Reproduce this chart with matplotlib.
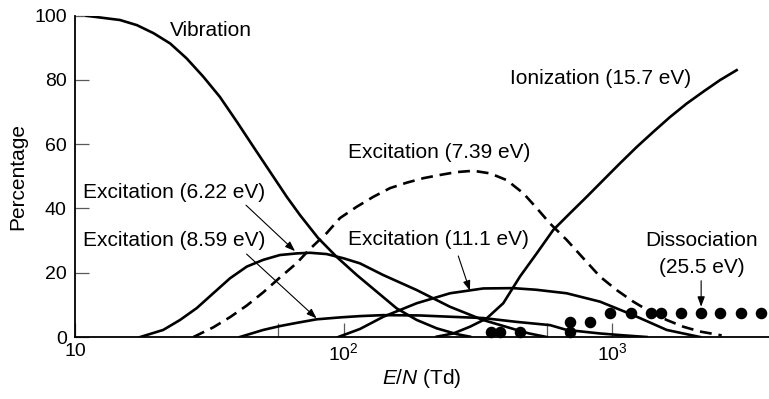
import matplotlib.pyplot as plt
import matplotlib as mpl
import numpy as np

mpl.rcParams['font.family'] = ['Liberation Sans', 'DejaVu Sans']
mpl.rcParams['mathtext.fontset'] = 'custom'
mpl.rcParams['mathtext.rm'] = 'Liberation Sans'
mpl.rcParams['mathtext.it'] = 'Liberation Sans:italic'

# Vibration
vib_x = [11.05, 14.7, 17.0, 19.6, 22.6, 26.0, 30.0, 34.6, 40.0, 46.1, 53.2, 61.4, 68.8, 80.3,
         94.2, 111.8, 132.7, 157.5, 187.0, 221.9, 263.4, 295.2]
vib_y = [99.9, 98.6, 97.0, 94.5, 91.3, 86.7, 81.0, 74.7, 67.0, 59.2, 51.4, 43.6, 37.9, 30.8,
         24.9, 19.3, 14.1, 8.9, 5.3, 2.7, 0.9, 0.1]

# Excitation (6.22 eV)
e622_x = [17.5, 21.3, 24.6, 28.4, 32.7, 37.8, 43.6, 50.2, 57.9, 66.9, 74.9, 86.4, 99.7, 115.0,
          140.1, 187.0, 248.7, 329.9, 440.4, 490.0, 569.4]
e622_y = [0.0, 2.2, 5.3, 9.0, 13.6, 18.3, 21.9, 24.0, 25.5, 26.0, 26.2, 25.8, 24.5, 22.9,
          19.3, 14.6, 9.4, 5.3, 2.2, 1.1, 0.0]

# Excitation (7.39 eV), dashed
e739_x = [27.6, 32.7, 37.8, 43.6, 50.2, 57.9, 66.9, 74.9, 86.4, 96.9, 111.8, 128.9, 148.7,
          171.6, 197.9, 228.3, 263.4, 303.8, 350.4, 404.4, 466.3, 522.8, 586.1, 676.0, 779.3,
          899.2, 1037.5, 1196.1, 1380.3, 1592.6, 1836.2, 2118.4, 2552]
e739_y = [0.0, 3.0, 6.2, 9.8, 13.9, 18.5, 23.0, 27.4, 32.3, 37.0, 40.5, 43.6, 46.3,
          48.0, 49.4, 50.4, 51.3, 51.7, 50.9, 48.8, 44.7, 40.1, 35.3, 30.2, 24.5,
          18.8, 14.6, 11.0, 7.9, 5.3, 3.2, 1.7, 0.5]

# Excitation (8.59 eV)
e859_x = [41.1, 50.2, 57.9, 66.9, 79.3, 97.1, 115.0, 140.1, 192.0, 248.7, 330.0, 440.4, 586.0,
          676.0, 899.2, 1067, 1342]
e859_y = [0.0, 2.2, 3.4, 4.4, 5.5, 6.1, 6.5, 6.8, 6.7, 6.3, 5.9, 4.7, 3.7, 2.2, 1.1, 0.6, 0.0]

# Excitation (11.1 eV)
e111_x = [95.5, 115.0, 140.5, 187.0, 248.7, 330.8, 426.6, 520.0, 676.0, 899.2, 1196, 1593, 2118]
e111_y = [0.0, 2.5, 6.3, 10.5, 13.6, 15.1, 15.2, 14.7, 13.6, 11.0, 6.8, 2.2, 0.0]

# Ionization (15.7 eV)
ion_x = [221.9, 255.8, 295.2, 340.6, 392.6, 453.0, 522.8, 602.6, 695.6, 802.4, 925.1, 1067,
         1232, 1420, 1638, 1890, 2179, 2515, 2901]
ion_y = [0.1, 1.1, 3.2, 5.8, 10.5, 18.8, 26.0, 33.3, 38.5, 43.6, 48.8, 54.0,
         59.1, 63.8, 68.4, 72.6, 76.3, 79.9, 83.0]

# Dissociation (25.5 eV), points
dis_x = [352, 382, 453, 696, 696, 825, 980, 1173, 1392, 1516, 1800, 2136, 2515, 3002, 3573]
dis_y = [1.5, 1.5, 1.5, 4.6, 1.5, 4.6, 7.4, 7.4, 7.4, 7.4, 7.4, 7.4, 7.4, 7.4, 7.4]

fig = plt.figure(figsize=(7.69, 3.99), dpi=100)
ax = fig.add_axes([75 / 769, 62 / 399, 694 / 769, 321.5 / 399])

lw = 1.9
ax.plot(vib_x, vib_y, c='k', lw=lw)
ax.plot(e622_x, e622_y, c='k', lw=lw)
ax.plot(e739_x, e739_y, c='k', lw=lw, linestyle=(0, (4.5, 2.6)))
ax.plot(e859_x, e859_y, c='k', lw=lw)
ax.plot(e111_x, e111_y, c='k', lw=lw)
ax.plot(ion_x, ion_y, c='k', lw=lw)
ax.plot(dis_x, dis_y, 'o', c='k', markersize=7.3, clip_on=False)

ax.set_xscale('log')
ax.set_xlim(10, 3828)
ax.set_ylim(0, 100)

ax.set_xticks([10, 100, 1000])
ax.set_xticklabels(['10', '$10^2$', '$10^3$'])
ax.set_xticks([57, 570], minor=True)
ax.set_xticklabels(['', ''], minor=True)
ax.set_yticks([0, 20, 40, 60, 80, 100])

ax.tick_params(axis='both', which='both', direction='in', length=10, width=0.9,
               color='0.35', labelsize=14)
ax.tick_params(axis='x', pad=4)
ax.tick_params(axis='y', pad=6)

for s in ['top', 'right']:
    ax.spines[s].set_visible(False)
for s in ['left', 'bottom']:
    ax.spines[s].set_linewidth(1.3)

ax.set_xlabel('$E/N$ (Td)', fontsize=15, labelpad=2)
ax.set_ylabel('Percentage', fontsize=15, labelpad=5)

fs = 15
ax.text(22.6, 95.3, 'Vibration', fontsize=fs, va='center', ha='left')
ax.text(104, 57.5, 'Excitation (7.39 eV)', fontsize=fs, va='center', ha='left')
ax.text(416, 80.3, 'Ionization (15.7 eV)', fontsize=fs, va='center', ha='left')
ax.text(10.7, 45.1, 'Excitation (6.22 eV)', fontsize=fs, va='center', ha='left')
ax.text(10.7, 30.1, 'Excitation (8.59 eV)', fontsize=fs, va='center', ha='left')
ax.text(104, 30.3, 'Excitation (11.1 eV)', fontsize=fs, va='center', ha='left')
ax.text(2150, 29.9, 'Dissociation', fontsize=fs, va='center', ha='center')
ax.text(2150, 21.7, '(25.5 eV)', fontsize=fs, va='center', ha='center')

arw = dict(arrowstyle='-|>,head_length=0.6,head_width=0.22', color='k', lw=0.8,
           shrinkA=0, shrinkB=0)
ax.annotate('', xy=(65.9, 26.7), xytext=(43.3, 41.0), arrowprops=arw)
ax.annotate('', xy=(79.3, 5.8), xytext=(43.5, 25.8), arrowprops=arw)
ax.annotate('', xy=(295, 14.4), xytext=(267, 25.2), arrowprops=arw)
ax.annotate('', xy=(2140, 9.4), xytext=(2140, 17.5), arrowprops=arw)

plt.savefig('out.png', dpi=100)
